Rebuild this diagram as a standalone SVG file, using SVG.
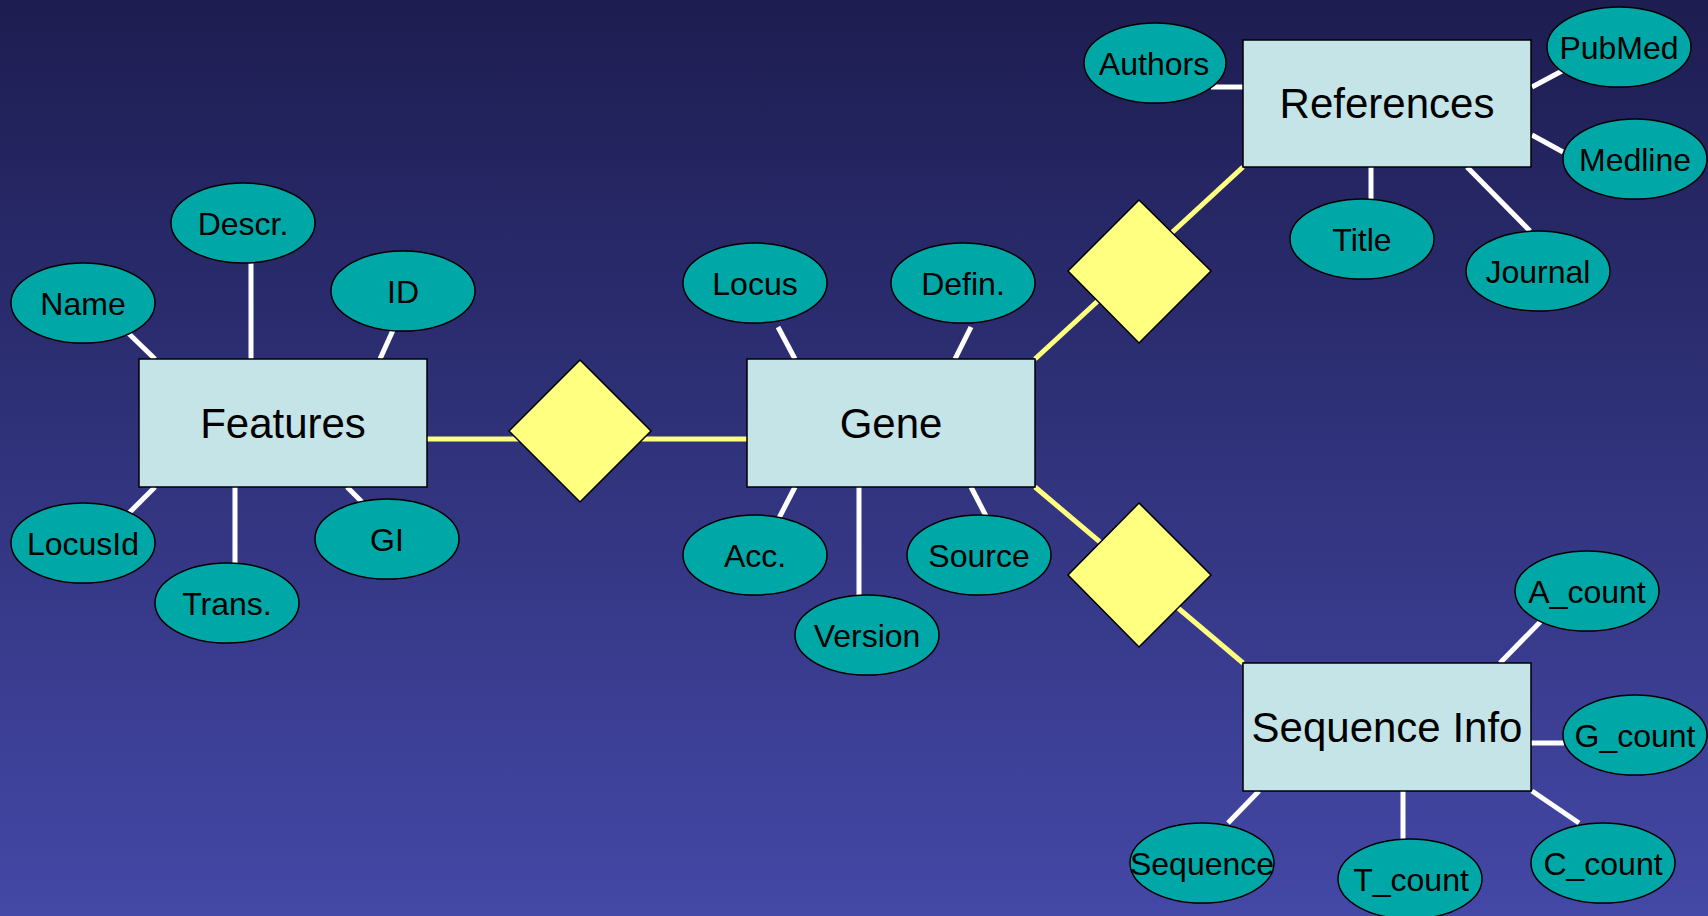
<svg xmlns="http://www.w3.org/2000/svg" width="1708" height="916" viewBox="0 0 1708 916">
  <defs>
    <linearGradient id="bg" x1="0" y1="0" x2="0" y2="1">
      <stop offset="0" stop-color="#1d1d51"/>
      <stop offset="1" stop-color="#4448a6"/>
    </linearGradient>
    <style>
      .ent { fill: #c5e4e8; stroke: #000; stroke-width: 1.5; }
      .att { fill: #00a7a7; stroke: #000; stroke-width: 1.5; }
      .rel { fill: #ffff80; stroke: #000; stroke-width: 1.5; }
      .wl { stroke: #fff; stroke-width: 5; fill: none; }
      .yl { stroke: #ffff80; stroke-width: 5; fill: none; }
      .big { font-family: "Liberation Sans", Arial, sans-serif; font-size: 42px; fill: #000; text-anchor: middle; }
      .sm { font-family: "Liberation Sans", Arial, sans-serif; font-size: 32px; fill: #000; text-anchor: middle; }
    </style>
  </defs>
  <rect x="0" y="0" width="1708" height="916" fill="url(#bg)"/>

  <g id="connectors">
    <!-- relationship lines -->
    <line class="yl" x1="427" y1="439" x2="747" y2="439"/>
    <line class="yl" x1="1035" y1="359" x2="1243" y2="167"/>
    <line class="yl" x1="1035" y1="487" x2="1243" y2="663"/>
    <!-- Features attributes -->
    <line class="wl" x1="123" y1="328" x2="155" y2="359"/>
    <line class="wl" x1="251" y1="263" x2="251" y2="359"/>
    <line class="wl" x1="394" y1="328" x2="380" y2="359"/>
    <line class="wl" x1="155" y1="487" x2="124" y2="518"/>
    <line class="wl" x1="235" y1="487" x2="235" y2="566"/>
    <line class="wl" x1="347" y1="487" x2="362" y2="502"/>
    <!-- Gene attributes -->
    <line class="wl" x1="778" y1="327" x2="795" y2="359"/>
    <line class="wl" x1="971" y1="327" x2="955" y2="359"/>
    <line class="wl" x1="795" y1="487" x2="779" y2="518"/>
    <line class="wl" x1="859" y1="487" x2="859" y2="598"/>
    <line class="wl" x1="971" y1="487" x2="987" y2="518"/>
    <!-- References attributes -->
    <line class="wl" x1="1211" y1="87" x2="1243" y2="87"/>
    <line class="wl" x1="1532" y1="87" x2="1562" y2="71"/>
    <line class="wl" x1="1532" y1="135" x2="1563" y2="152"/>
    <line class="wl" x1="1371" y1="167" x2="1371" y2="199"/>
    <line class="wl" x1="1467" y1="167" x2="1530" y2="231"/>
    <!-- Sequence Info attributes -->
    <line class="wl" x1="1500" y1="663" x2="1546" y2="616"/>
    <line class="wl" x1="1531" y1="743" x2="1564" y2="743"/>
    <line class="wl" x1="1259" y1="791" x2="1228" y2="823"/>
    <line class="wl" x1="1403" y1="791" x2="1403" y2="839"/>
    <line class="wl" x1="1532" y1="791" x2="1579" y2="823"/>
  </g>

  <g id="rel-features-gene"><polygon class="rel" points="580,360 651,431 580,502 509,431"/></g>
  <g id="rel-gene-references"><polygon class="rel" points="1139,200 1211,271 1139,343 1068,271"/></g>
  <g id="rel-gene-sequence"><polygon class="rel" points="1139,503 1211,575 1139,647 1068,575"/></g>

  <g id="features"><rect class="ent" x="139" y="359" width="288" height="128"/><text class="big" x="283" y="438">Features</text></g>
  <g id="gene"><rect class="ent" x="747" y="359" width="288" height="128"/><text class="big" x="891" y="438">Gene</text></g>
  <g id="references"><rect class="ent" x="1243" y="40" width="288" height="127"/><text class="big" x="1387" y="118">References</text></g>
  <g id="sequence-info"><rect class="ent" x="1243" y="663" width="288" height="128"/><text class="big" x="1387" y="742">Sequence Info</text></g>

  <g id="att-name"><ellipse class="att" cx="83" cy="303" rx="72" ry="40"/><text class="sm" x="83" y="315">Name</text></g>
  <g id="att-descr"><ellipse class="att" cx="243" cy="223" rx="72" ry="40"/><text class="sm" x="243" y="235">Descr.</text></g>
  <g id="att-id"><ellipse class="att" cx="403" cy="291" rx="72" ry="40"/><text class="sm" x="403" y="303">ID</text></g>
  <g id="att-locusid"><ellipse class="att" cx="83" cy="543" rx="72" ry="40"/><text class="sm" x="83" y="555">LocusId</text></g>
  <g id="att-trans"><ellipse class="att" cx="227" cy="603" rx="72" ry="40"/><text class="sm" x="227" y="615">Trans.</text></g>
  <g id="att-gi"><ellipse class="att" cx="387" cy="539" rx="72" ry="40"/><text class="sm" x="387" y="551">GI</text></g>

  <g id="att-locus"><ellipse class="att" cx="755" cy="283" rx="72" ry="40"/><text class="sm" x="755" y="295">Locus</text></g>
  <g id="att-defin"><ellipse class="att" cx="963" cy="283" rx="72" ry="40"/><text class="sm" x="963" y="295">Defin.</text></g>
  <g id="att-acc"><ellipse class="att" cx="755" cy="555" rx="72" ry="40"/><text class="sm" x="755" y="567">Acc.</text></g>
  <g id="att-version"><ellipse class="att" cx="867" cy="635" rx="72" ry="40"/><text class="sm" x="867" y="647">Version</text></g>
  <g id="att-source"><ellipse class="att" cx="979" cy="555" rx="72" ry="40"/><text class="sm" x="979" y="567">Source</text></g>

  <g id="att-authors"><ellipse class="att" cx="1155" cy="63" rx="71" ry="40"/><text class="sm" x="1154" y="75">Authors</text></g>
  <g id="att-pubmed"><ellipse class="att" cx="1619" cy="47" rx="72" ry="40"/><text class="sm" x="1619" y="59">PubMed</text></g>
  <g id="att-medline"><ellipse class="att" cx="1635" cy="159" rx="72" ry="40"/><text class="sm" x="1635" y="171">Medline</text></g>
  <g id="att-title"><ellipse class="att" cx="1362" cy="239" rx="72" ry="40"/><text class="sm" x="1362" y="251">Title</text></g>
  <g id="att-journal"><ellipse class="att" cx="1538" cy="271" rx="72" ry="40"/><text class="sm" x="1538" y="283">Journal</text></g>

  <g id="att-a-count"><ellipse class="att" cx="1587" cy="591" rx="72" ry="40"/><text class="sm" x="1587" y="603">A_count</text></g>
  <g id="att-g-count"><ellipse class="att" cx="1635" cy="735" rx="72" ry="40"/><text class="sm" x="1635" y="747">G_count</text></g>
  <g id="att-sequence"><ellipse class="att" cx="1202" cy="863" rx="72" ry="40"/><text class="sm" x="1202" y="875">Sequence</text></g>
  <g id="att-t-count"><ellipse class="att" cx="1410" cy="879" rx="72" ry="40"/><text class="sm" x="1411" y="891">T_count</text></g>
  <g id="att-c-count"><ellipse class="att" cx="1603" cy="863" rx="72" ry="40"/><text class="sm" x="1603" y="875">C_count</text></g>
</svg>
